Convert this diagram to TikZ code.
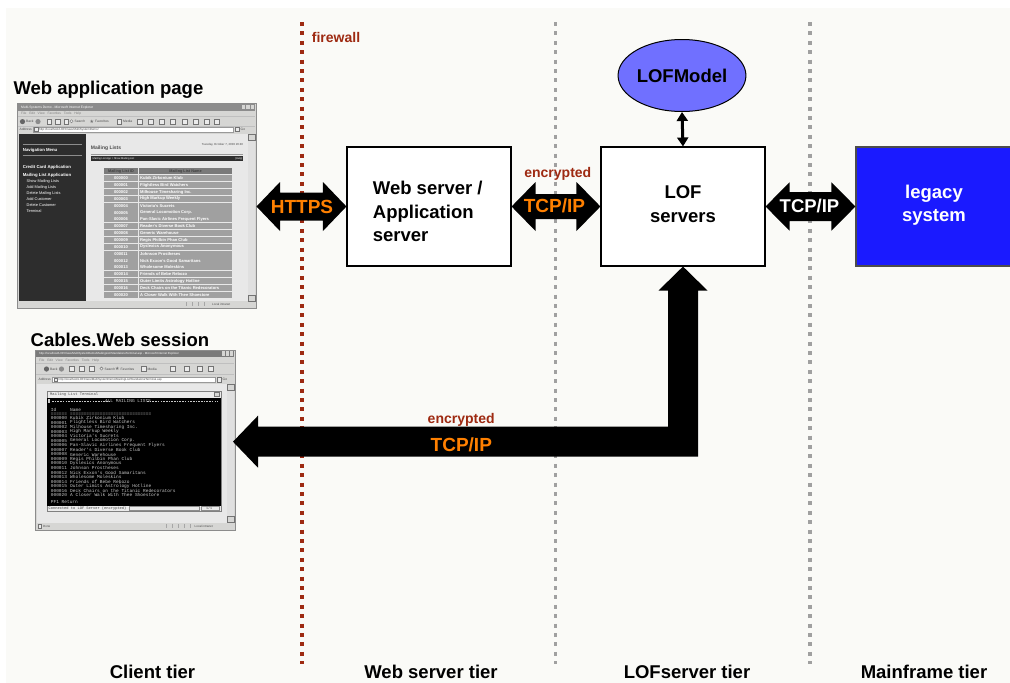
\documentclass[tikz,border=0pt]{standalone}
\usepackage{fontspec}
\setmainfont{Liberation Sans}
\setmonofont{Liberation Mono}
\newfontfamily\symfont{DejaVu Sans}
\usetikzlibrary{arrows.meta,calc,shapes.geometric}
\definecolor{bgc}{RGB}{250,250,247}
\definecolor{fwred}{RGB}{158,42,18}
\definecolor{tcporange}{RGB}{255,128,0}
\definecolor{legblue}{RGB}{26,26,255}
\definecolor{modelblue}{RGB}{112,112,255}
\definecolor{tiergray}{RGB}{160,160,160}
\definecolor{winface}{RGB}{214,214,212}
\definecolor{navdark}{RGB}{45,45,45}
\definecolor{pagegray}{RGB}{232,232,232}
\definecolor{cellgray}{RGB}{160,160,160}
\definecolor{headgray}{RGB}{122,122,122}
\definecolor{termtext}{RGB}{200,200,200}
\def\mlrows{000000/Kubik Zirkonium Klub,000001/Flightless Bird Watchers,000002/Milhouse Timesharing Inc.,000003/High Markup Weekly,000004/Victoria's Sucrets,000005/General Locomotion Corp.,000006/Pan-Slavic Airlines Frequent Flyers,000007/Reader's Diverse Book Club,000008/Generic Warehouse,000009/Regis Philbin Phan Club,000010/Dyslexics Anonymous,000011/Johnson Prostheses,000012/Nick Exxon's Good Samaritans,000013/Wholesome Moleskins,000014/Friends of Bebe Rebozo,000015/Outer Limits Astrology Hotline,000016/Deck Chairs on the Titanic Redecorators,000020/A Closer Walk With Thee Shoestore}
% block double arrow between two points: #3 head length, #4 head half height, #5 body half height
\newcommand{\blockarrow}[5]{%
  \fill[black] let \p1=(#1), \p2=(#2) in
    (\x1,\y1) -- (\x1+#3,\y1+#4) -- (\x1+#3,\y1+#5) -- (\x2-#3,\y1+#5) -- (\x2-#3,\y1+#4) -- (\x2,\y1)
    -- (\x2-#3,\y1-#4) -- (\x2-#3,\y1-#5) -- (\x1+#3,\y1-#5) -- (\x1+#3,\y1-#4) -- cycle;}
\begin{document}
\begin{tikzpicture}[x=1pt,y=-1pt,
  lbl/.style={font=\fontsize{18.5}{23.3}\selectfont\bfseries, inner sep=0},
  note/.style={font=\fontsize{14}{16}\selectfont\bfseries, text=fwred, inner sep=0},
  proto/.style={font=\fontsize{19}{22}\selectfont\bfseries, text=tcporange, inner sep=0},
  box/.style={draw=black, line width=1.1pt, fill=white, inner sep=0},
  tierline/.style={line width=3.5pt, dash pattern=on 4pt off 5.4pt},
  tx/.style={inner sep=0, font=\fontsize{3.3}{4}\selectfont, text=black!70, anchor=west},
  navtx/.style={inner sep=0, font=\fontsize{4.2}{5}\selectfont, text=white, anchor=west},
  celltx/.style={inner sep=0, font=\fontsize{4.1}{5}\selectfont\bfseries, text=white},
  termtx/.style={inner sep=0, font=\fontsize{4.5}{5}\selectfont\ttfamily, text=termtext, anchor=west},
  icon/.style={draw=black!55, line width=0.4pt, fill=black!8},
  frame/.style={draw=black!45, line width=0.5pt, fill=winface, inner sep=0, anchor=north west}
]
\useasboundingbox (0,0) rectangle (1010,683);
\fill[white] (0,0) rectangle (1010,683);
\fill[bgc] (6,8) rectangle (1010,683);

% tier separators
\draw[tierline, draw=fwred] (302,22) -- (302,664);
\draw[tierline, draw=tiergray] (555.5,22) -- (555.5,664);
\draw[tierline, draw=tiergray] (810,22) -- (810,664);
\node[note, anchor=base west] (fw) at (311.7,42.7) {firewall};

% ================= screenshot 1 : web application page =================
\node[lbl, anchor=base west] (t1) at (13.3,94) {Web application page};
\node[frame, minimum width=239pt, minimum height=204.5pt] (shot1) at (17,103) {};
\fill[black!45] (18,104) rectangle (255,110.5);
\node[tx, text=white] (s1title) at (21,107.3) {Multi-Systems Demo - Microsoft Internet Explorer};
\foreach \bx in {241.5,246,250.5} \fill[winface] (\bx,105.2) rectangle ++(3.8,4.2);
\node[tx, text=black!50] (s1menu) at (21,114) {File\ \ \ Edit\ \ \ View\ \ \ Favorites\ \ \ Tools\ \ \ Help};
\draw[black!25, line width=0.3pt] (18,116.6) -- (255,116.6);
\fill[black!60] (22.5,121.6) circle (2.6pt);
\node[tx] (s1back) at (26,121.6) {Back};
\fill[black!45] (38,121.6) circle (2.6pt);
\foreach \ix in {47,55.5,64} \draw[icon] (\ix,119) rectangle ++(4.5,5.2);
\draw[icon] (71.5,121.2) circle (1.6pt);
\node[tx] (s1search) at (74.5,121.6) {Search};
\node[tx, text=black!55, font=\fontsize{5}{5}\selectfont\symfont] (s1star) at (89.5,121.4) {★};
\node[tx] (s1fav) at (95,121.6) {Favorites};
\draw[icon] (117,119.2) rectangle ++(4.5,4.6);
\node[tx] (s1media) at (123,121.6) {Media};
\foreach \ix in {137,148,159,170,182,193,204,214} \draw[icon] (\ix,119) rectangle ++(5,5.2);
\draw[black!25, line width=0.3pt] (18,125.8) -- (255,125.8);
\node[tx] (s1addr) at (19.5,129.4) {Address};
\draw[black!40, line width=0.3pt, fill=white] (33,126.9) rectangle (233,131.9);
\draw[icon] (34.3,127.6) rectangle ++(3.4,3.6);
\node[tx, font=\fontsize{3}{4}\selectfont] (s1url) at (39,129.4) {http://localhost/LOFClass/MultiSystemDemo/};
\draw[icon] (235,127.2) rectangle ++(4.2,4.4);
\node[tx] (s1go) at (240.5,129.4) {Go};
% page
\fill[pagegray] (18.5,134) rectangle (248,301);
\fill[navdark] (18.5,134) rectangle (86,301);
\fill[black!12] (248,134) rectangle (255,301);
\draw[icon, fill=winface] (248,134) rectangle (255,140);
\draw[icon, fill=winface] (248,295) rectangle (255,301);
\fill[winface] (18,301.5) rectangle (255,307);
\foreach \dx in {186,192,198,204} \draw[black!35, line width=0.3pt] (\dx,302.3) -- (\dx,306.3);
\node[tx, font=\fontsize{3}{4}\selectfont] (s1zone) at (212,304.3) {Local intranet};
% navigation menu
\draw[black!45, line width=0.6pt] (22.7,144.3) -- (81.7,144.3);
\draw[black!45, line width=0.6pt] (22.7,155.2) -- (81.7,155.2);
\node[navtx, font=\fontsize{4.3}{5}\selectfont\bfseries] (nav0) at (22.7,150) {Navigation Menu};
\node[navtx, font=\fontsize{4.3}{5}\selectfont\bfseries] (nav1) at (22.7,167.7) {Credit Card Application};
\node[navtx, font=\fontsize{4.3}{5}\selectfont\bfseries] (nav2) at (22.7,175) {Mailing List Application};
\foreach \it/\iy [count=\k] in {Show Mailing Lists/181.2,Add Mailing Lists/187.2,Delete Mailing Lists/193.2,Add Customer/199.2,Delete Customer/205.1,Terminal/211}
  \node[navtx, font=\fontsize{3.9}{5}\selectfont] (navs\k) at (26.5,\iy) {\it};
% content
\node[tx, anchor=east, font=\fontsize{2.9}{4}\selectfont] (s1date) at (243.3,145) {Tuesday, October 7, 2003 20:40};
\node[tx, font=\fontsize{5}{6}\selectfont\bfseries, text=black!70] (s1head) at (90.7,148.6) {Mailing Lists};
\draw[black!40, line width=0.5pt] (90.7,154) -- (243.3,154);
\fill[black!82] (90.7,156.2) rectangle (243.3,160.6);
\node[tx, text=white, font=\fontsize{2.6}{3}\selectfont] (s1crumb) at (92.5,158.4) {Mailing List App > Show Mailing List};
\node[tx, anchor=east, text=white, font=\fontsize{2.6}{3}\selectfont] (s1help) at (242.5,158.4) {[Help]};
% table
\fill[headgray] (104.3,168.3) rectangle (137.8,174.4);
\fill[headgray] (138.8,168.3) rectangle (232.3,174.4);
\node[celltx, text=black!75, font=\fontsize{3.8}{5}\selectfont\bfseries] (th1) at (121,171.4) {Mailing List ID};
\node[celltx, text=black!75, font=\fontsize{3.8}{5}\selectfont\bfseries] (th2) at (185.5,171.4) {Mailing List Name};
\foreach \rid/\rname [count=\i from 0] in \mlrows {
  \fill[cellgray] (104.3,{175.1+\i*6.86}) rectangle (137.8,{175.1+\i*6.86+6.1});
  \fill[cellgray] (138.8,{175.1+\i*6.86}) rectangle (232.3,{175.1+\i*6.86+6.1});
  \node[celltx] (rid\i) at (121,{178.3+\i*6.86}) {\rid};
  \node[celltx, anchor=west] (rnm\i) at (140,{178.3+\i*6.86}) {\rname};
}

% ================= screenshot 2 : Cables.Web session =================
\node[lbl, anchor=base west] (t2) at (30.5,346.5) {Cables.Web session};
\node[frame, minimum width=200pt, minimum height=180.5pt] (shot2) at (35,349.5) {};
\begin{scope}
\clip (36,350.5) rectangle (222,356.5);
\fill[black!52] (36,350.5) rectangle (234,356.5);
\node[tx, text=white, font=\fontsize{2.9}{4}\selectfont] (s2title) at (39,353.5) {http://localhost/LOFClass/MultiSystemDemo/MailingList/StandaloneTerminal.asp - Microsoft Internet Explorer};
\end{scope}
\fill[black!52] (222,350.5) rectangle (234,356.5);
\foreach \bx in {221.5,225.5,229.5} \fill[winface] (\bx,351.3) rectangle ++(3.4,4.4);
\node[tx, text=black!50] (s2menu) at (39,360.7) {File\ \ \ Edit\ \ \ View\ \ \ Favorites\ \ \ Tools\ \ \ Help};
\draw[black!25, line width=0.3pt] (36,363.6) -- (234,363.6);
\fill[black!60] (46.5,369) circle (2.6pt);
\node[tx] (s2back) at (50,369) {Back};
\fill[black!45] (61.5,369) circle (2.6pt);
\foreach \ix in {69.5,79.5,89.5} \draw[icon] (\ix,366.4) rectangle ++(4.5,5.2);
\draw[icon] (101.5,368.6) circle (1.6pt);
\node[tx] (s2search) at (104.5,369) {Search};
\node[tx, text=black!55, font=\fontsize{5}{5}\selectfont\symfont] (s2star) at (115,368.8) {★};
\node[tx] (s2fav) at (120.5,369) {Favorites};
\draw[icon] (141.5,366.6) rectangle ++(4.5,4.6);
\node[tx] (s2media) at (147.5,369) {Media};
\foreach \ix in {170,184,197,208} \draw[icon] (\ix,366.4) rectangle ++(5,5.2);
\draw[black!25, line width=0.3pt] (36,374.6) -- (234,374.6);
\node[tx] (s2addr) at (38.5,379.7) {Address};
\draw[black!40, line width=0.3pt, fill=white] (52.5,377.2) rectangle (215,382.2);
\draw[icon] (53.7,377.9) rectangle ++(3.4,3.6);
\node[tx, font=\fontsize{2.9}{4}\selectfont] (s2url) at (58.5,379.7) {http://localhost/LOFClass/MultiSystemDemo/MailingList/StandaloneTerminal.asp};
\draw[icon] (217,377.5) rectangle ++(4.2,4.4);
\node[tx] (s2go) at (222.5,379.7) {Go};
\fill[pagegray] (36.5,384) rectangle (227.3,522.5);
\fill[black!12] (227.3,384) rectangle (234,522.5);
\draw[icon, fill=winface] (227.3,384) rectangle (234,390);
\draw[icon, fill=winface] (227.3,516.5) rectangle (234,522.5);
\fill[winface] (36,523.3) rectangle (234,529);
\draw[icon] (38,524.3) rectangle ++(3.4,3.6);
\node[tx, font=\fontsize{3}{4}\selectfont] (s2done) at (43,526.2) {Done};
\foreach \dx in {166,172,178,184,190} \draw[black!35, line width=0.3pt] (\dx,524) -- (\dx,528.3);
\node[tx, font=\fontsize{3}{4}\selectfont] (s2zone) at (194.5,526.2) {Local intranet};
% terminal window
\draw[black!50, line width=0.4pt, fill=black!8] (46.7,391.5) rectangle (220.7,511);
\node[tx, font=\fontsize{3.8}{4}\selectfont\ttfamily, text=black!70] (termtitle) at (50,394.6) {Mailing List Terminal};
\draw[icon, fill=winface] (214,392.4) rectangle (219.5,396.6);
\fill[black] (46.7,397.5) rectangle (220.7,505.5);
\fill[termtext] (48,399.2) rectangle (50.3,403.2);
\draw[termtext, line width=0.4pt, dash pattern=on 1.6pt off 1.1pt] (52,401.2) -- (109,401.2);
\draw[termtext, line width=0.4pt, dash pattern=on 1.6pt off 1.1pt] (147,401.2) -- (218,401.2);
\node[termtx, anchor=center] (termhead) at (128,401.2) {ALL MAILING LISTS};
\node[termtx] (tcol1) at (50.7,410) {Id};
\node[termtx] (tcol2) at (70,410) {Name};
\node[termtx] (tund1) at (50.7,414) {======};
\node[termtx] (tund2) at (70,414) {==============================};
\foreach \rid/\rname [count=\i from 0] in \mlrows {
  \node[termtx] (tid\i) at (50.7,{418+\i*4.55}) {\rid};
  \node[termtx] (tnm\i) at (70,{418+\i*4.55}) {\rname};
}
\node[termtx] (tpf) at (50.7,502) {PF1 Return};
\node[tx, font=\fontsize{3.7}{4}\selectfont\ttfamily, text=black!75] (tstat) at (48.5,508.3) {Connected to LOF Server (encrypted)};
\draw[black!45, line width=0.3pt] (129,506.3) rectangle (199,510.3);
\draw[black!45, line width=0.3pt] (201,506.3) rectangle (219.5,510.3);
\node[tx, font=\fontsize{3.3}{4}\selectfont\ttfamily] (tpage) at (206,508.3) {1/1};

% ================= servers =================
\node[box, minimum width=164pt, minimum height=119pt] (ws) at (429,206.5) {};
\node[lbl, align=left, anchor=north west] (wstext) at (372.7,181.2) {Web server /\\Application\\server};
\node[box, minimum width=164pt, minimum height=119pt] (lof) at (683,206.5) {};
\node[lbl, align=center, anchor=north] (loftext) at (683,185.7) {LOF\\servers};
\node[box, fill=legblue, draw=black!70, minimum width=158pt, minimum height=119pt] (leg) at (935,206.5) {};
\node[lbl, align=center, anchor=north, text=white] (legtext) at (934,184.4) {legacy\\system};
\node[ellipse, draw=black, line width=1pt, fill=modelblue, minimum width=122pt, minimum height=72pt, inner sep=0,
      font=\fontsize{18.5}{22}\selectfont\bfseries] (model) at (682,75.5) {LOFModel};

% ================= connectors =================
\draw[line width=3pt, {Triangle[length=9pt,width=11pt]}-{Triangle[length=9pt,width=11pt]}] (model.south) -- (lof.north);
\blockarrow{shot1.east|-ws.west}{ws.west}{23.5pt}{24.5pt}{14pt}
\node[proto, anchor=base] (https) at (302,213.3) {HTTPS};
\blockarrow{ws.east}{lof.west}{24pt}{24.5pt}{12.5pt}
\node[proto, anchor=base] (tcp1) at (554.5,212.3) {TCP/IP};
\node[note, anchor=base] (enc1) at (557.8,177.7) {encrypted};
\blockarrow{lof.east}{leg.west}{24pt}{24.2pt}{14.5pt}
\node[proto, anchor=base, text=white, font=\fontsize{18.5}{22}\selectfont\bfseries] (tcp2) at (809.5,212.7) {TCP/IP};
% L-shaped arrow from LOF servers to the terminal session
\coordinate (ltip) at (233,441.7);
\fill[black] let \p1=(lof.south), \p2=(ltip) in
  (\x1,\y1) -- (\x1+24.5pt,\y1-24pt) -- (\x1+15pt,\y1-24pt) -- (\x1+15pt,\y2-15pt)
  -- (\x2+25pt,\y2-15pt) -- (\x2+25pt,\y2-26pt) -- (\x2,\y2) -- (\x2+25pt,\y2+26pt) -- (\x2+25pt,\y2+15pt)
  -- (\x1-15pt,\y2+15pt) -- (\x1-15pt,\y1-24pt) -- (\x1-24.5pt,\y1-24pt) -- cycle;
\node[note, anchor=base] (enc2) at (461.2,423.3) {encrypted};
\node[proto, anchor=base] (tcp3) at (461.3,451) {TCP/IP};

% ================= tiers =================
\node[lbl, anchor=base] (tier1) at (152.5,678.3) {Client tier};
\node[lbl, anchor=base] (tier2) at (431,678.3) {Web server tier};
\node[lbl, anchor=base] (tier3) at (687,678.3) {LOFserver tier};
\node[lbl, anchor=base] (tier4) at (924,678.3) {Mainframe tier};
\end{tikzpicture}
\end{document}
